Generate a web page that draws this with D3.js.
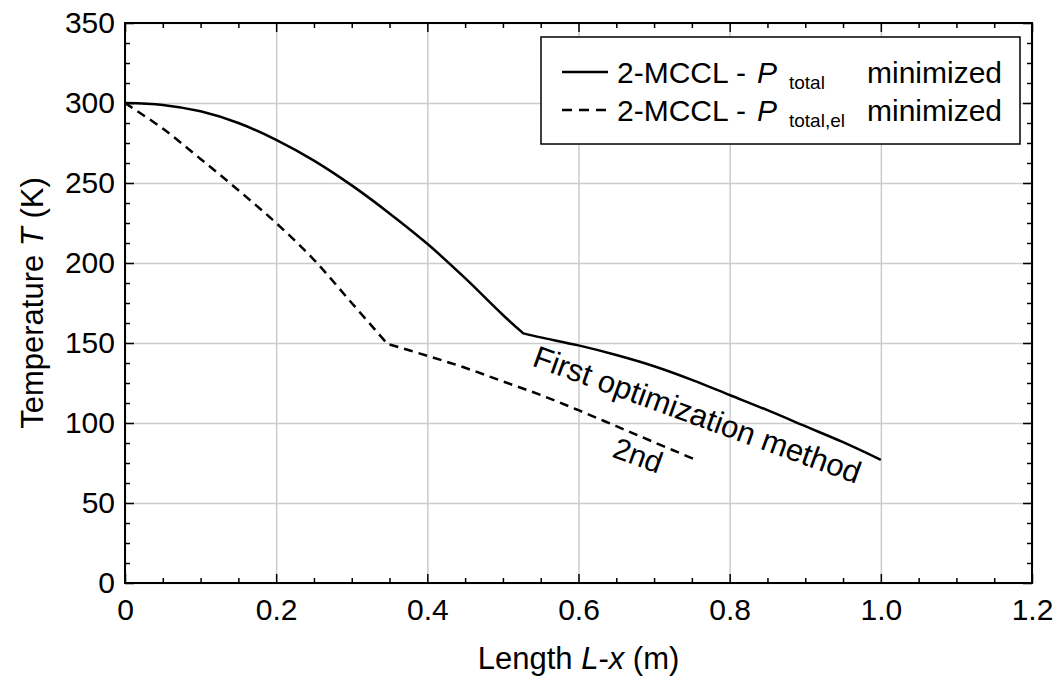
<!DOCTYPE html>
<html lang="en">
<head>
<meta charset="UTF-8"/>
<title>Temperature along the length</title>
<script src="https://cdn.jsdelivr.net/npm/d3@7"></script>
<style>
    body { margin: 0; background: #fff; }
    text { font-family: "Liberation Sans", Arial, sans-serif; fill: #000; }
    .grid line { stroke: #cccccc; stroke-width: 1.5px; }
    .grid path { display: none; }
    .ticks path { display: none; }
    .ticks line { stroke: #000; stroke-width: 1.5px; }
    .labels path, .labels line { display: none; }
    .labels text { font-size: 30px; }
    path.curve { fill: none; stroke: #000; stroke-width: 2.5px; }
</style>
</head>
<body>
<svg width="1061" height="680"></svg>
<script>
// x = L-x (m), y = T (K)
var xTicks = [0, 0.2, 0.4, 0.6, 0.8, 1.0, 1.2];
var xTickLabels = ["0", "0.2", "0.4", "0.6", "0.8", "1.0", "1.2"];
var yTicks = [0, 50, 100, 150, 200, 250, 300, 350];
var yTickLabels = ["0", "50", "100", "150", "200", "250", "300", "350"];

// first method (P_total minimized), two branches meeting at the kink
var totalL1 = [0, 0.05, 0.1, 0.15, 0.2, 0.25, 0.3, 0.35, 0.4, 0.45, 0.5, 0.527];
var totalT1 = [300, 298.8, 294.8, 287.5, 277, 264, 248.5, 231, 212, 190.5, 167.5, 156];
var totalL2 = [0.527, 0.55, 0.6, 0.65, 0.7, 0.75, 0.8, 0.85, 0.9, 0.95, 1.0];
var totalT2 = [156, 153.5, 148.5, 142.5, 135.5, 127, 117.5, 108, 98, 88, 77];

// second method (P_total,el minimized)
var elL1 = [0, 0.05, 0.1, 0.15, 0.2, 0.25, 0.3, 0.347];
var elT1 = [300, 284, 265, 245.5, 225, 202, 175, 149.5];
var elL2 = [0.347, 0.4, 0.45, 0.5, 0.55, 0.6, 0.65, 0.7, 0.755];
var elT2 = [149.5, 142, 134.5, 126, 117.5, 108, 98, 88, 77];

var svg = d3.select("svg"),
    margin = {top: 23, right: 29, bottom: 97, left: 125},
    width = 1061 - margin.left - margin.right,
    height = 680 - margin.top - margin.bottom;

var g = svg.append("g")
    .attr("transform", "translate(" + margin.left + "," + margin.top + ")");

var x = d3.scaleLinear().domain([0, 1.2]).range([0, width]);
var y = d3.scaleLinear().domain([0, 350]).range([height, 0]);

var xMinor = d3.range(0, 1.2001, 0.05).filter(function(v) { return Math.abs(v / 0.2 - Math.round(v / 0.2)) > 1e-6; });
var yMinor = d3.range(0, 350.01, 12.5).filter(function(v) { return v % 50 !== 0; });

// grid
g.append("g").attr("class", "grid")
    .attr("transform", "translate(0," + height + ")")
    .call(d3.axisBottom(x).tickValues(xTicks).tickSize(-height).tickFormat(""));
g.append("g").attr("class", "grid")
    .call(d3.axisLeft(y).tickValues(yTicks).tickSize(-width).tickFormat(""));

// inward ticks on all four sides
function ticks(axis, vals, size, tr) {
    g.append("g").attr("class", "ticks")
        .attr("transform", tr)
        .call(axis.tickValues(vals).tickSize(-size).tickFormat(""));
}
ticks(d3.axisBottom(x), xTicks, 9, "translate(0," + height + ")");
ticks(d3.axisBottom(x), xMinor, 5, "translate(0," + height + ")");
ticks(d3.axisTop(x), xTicks, 9, "translate(0,0)");
ticks(d3.axisTop(x), xMinor, 5, "translate(0,0)");
ticks(d3.axisLeft(y), yTicks, 9, "translate(0,0)");
ticks(d3.axisLeft(y), yMinor, 5, "translate(0,0)");
ticks(d3.axisRight(y), yTicks, 9, "translate(" + width + ",0)");
ticks(d3.axisRight(y), yMinor, 5, "translate(" + width + ",0)");

// tick labels
g.append("g").attr("class", "labels")
    .attr("transform", "translate(0," + height + ")")
    .call(d3.axisBottom(x).tickValues(xTicks).tickSize(0).tickPadding(16)
        .tickFormat(function(d, i) { return xTickLabels[i]; }));
g.append("g").attr("class", "labels")
    .call(d3.axisLeft(y).tickValues(yTicks).tickSize(0).tickPadding(10)
        .tickFormat(function(d, i) { return yTickLabels[i]; }));

// curves
var line = d3.line()
    .x(function(d) { return x(d[0]); })
    .y(function(d) { return y(d[1]); })
    .curve(d3.curveCatmullRom.alpha(0.5));

function twoPiece(l1, t1, l2, t2) {
    var a = line(d3.zip(l1, t1));
    var b = line(d3.zip(l2, t2));
    return a + "L" + b.slice(1);
}

g.append("path").attr("class", "curve")
    .attr("d", twoPiece(totalL1, totalT1, totalL2, totalT2));
g.append("path").attr("class", "curve")
    .attr("stroke-dasharray", "9,6")
    .attr("d", twoPiece(elL1, elT1, elL2, elT2));

// frame
g.append("rect")
    .attr("width", width).attr("height", height)
    .attr("fill", "none").attr("stroke", "#000").attr("stroke-width", 2);

// annotations along the curves
g.append("text")
    .attr("transform", "translate(" + x(0.537) + "," + y(136) + ") rotate(20)")
    .style("font-size", "31px")
    .text("First optimization method");
g.append("text")
    .attr("transform", "translate(" + x(0.643) + "," + y(79) + ") rotate(20)")
    .style("font-size", "30px")
    .text("2nd");

// legend
var leg = svg.append("g").attr("transform", "translate(541,37)");
leg.append("rect").attr("width", 479).attr("height", 107)
    .attr("fill", "#fff").attr("stroke", "#000").attr("stroke-width", 1.5);

var legendRows = [
    {dash: null, sub: "total"},
    {dash: "10,7", sub: "total,el"}
];
legendRows.forEach(function(r, i) {
    var cy = 35 + i * 38;
    leg.append("line")
        .attr("x1", 21).attr("x2", 67).attr("y1", cy).attr("y2", cy)
        .attr("stroke", "#000").attr("stroke-width", 2.5)
        .attr("stroke-dasharray", r.dash);
    var t = leg.append("text").attr("x", 76).attr("y", cy + 11).style("font-size", "30px");
    t.append("tspan").text("2-MCCL - ");
    t.append("tspan").attr("x", 216).style("font-style", "italic").text("P");
    t.append("tspan").attr("x", 248).attr("dy", 6).style("font-size", "19px").text(r.sub);
    leg.append("text").attr("x", 326).attr("y", cy + 11).style("font-size", "30px").text("minimized");
});

// axis titles
var xt = svg.append("text")
    .attr("x", margin.left + width / 2).attr("y", 669)
    .attr("text-anchor", "middle").style("font-size", "31px");
xt.append("tspan").text("Length ");
xt.append("tspan").style("font-style", "italic").text("L");
xt.append("tspan").text("-");
xt.append("tspan").style("font-style", "italic").text("x");
xt.append("tspan").text(" (m)");

var yt = svg.append("text")
    .attr("transform", "translate(43," + (margin.top + height / 2) + ") rotate(-90)")
    .attr("text-anchor", "middle").style("font-size", "31px");
yt.append("tspan").text("Temperature ");
yt.append("tspan").style("font-style", "italic").text("T");
yt.append("tspan").text(" (K)");
</script>
</body>
</html>
